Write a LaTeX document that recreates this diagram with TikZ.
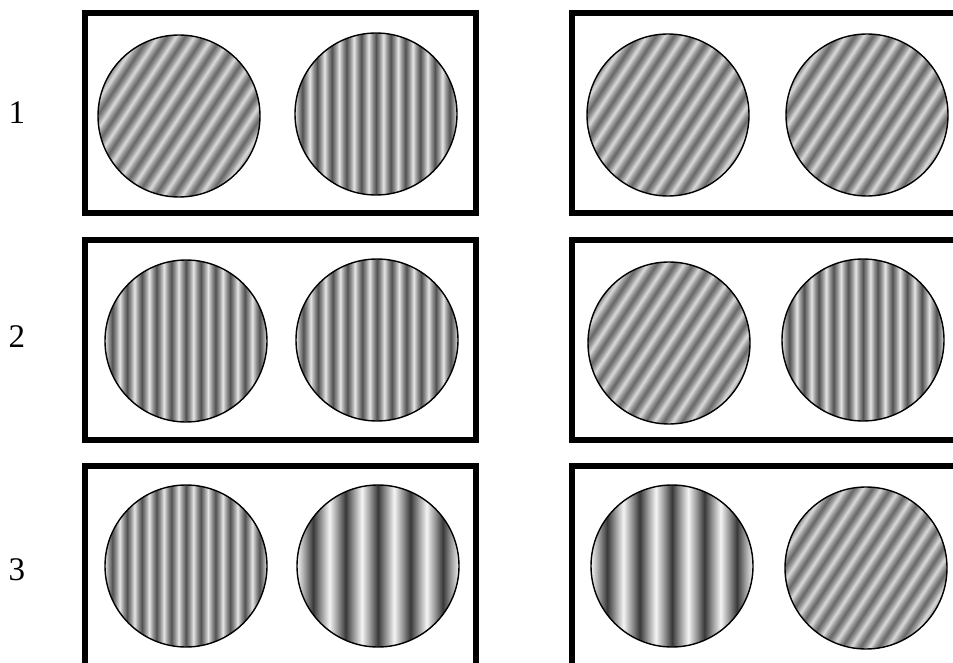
\documentclass[tikz,border=0pt]{standalone}
\usepackage{fontspec}
\setmainfont{Liberation Serif}
\usepackage{tikz}
\usetikzlibrary{shapes, positioning}

\definecolor{fdark}{gray}{0.32}
\definecolor{fmid}{gray}{0.58}
\definecolor{flight}{gray}{0.90}
\definecolor{odark}{gray}{0.40}
\definecolor{omid}{gray}{0.60}
\definecolor{olight}{gray}{0.86}
\definecolor{cdark}{gray}{0.22}
\definecolor{cmid}{gray}{0.60}
\definecolor{clight}{gray}{0.96}

% periodic grating shadings: name, periods per 100bp, dark, mid, light
\newcommand{\makegrating}[5]{%
  \gdef\gspec{}%
  \pgfmathsetmacro\gper{100/#2}%
  \foreach \k in {1,...,#2}{%
    \pgfmathsetmacro\ga{(\k-1)*\gper}%
    \pgfmathsetmacro\gb{(\k-0.75)*\gper}%
    \pgfmathsetmacro\gc{(\k-0.5)*\gper}%
    \pgfmathsetmacro\gd{(\k-0.25)*\gper}%
    \xdef\gspec{\gspec color(\ga bp)=(#3); color(\gb bp)=(#4); color(\gc bp)=(#5); color(\gd bp)=(#4);}%
  }%
  \xdef\gspec{\gspec color(100bp)=(#3)}%
  \edef\gtmp{\noexpand\pgfdeclarehorizontalshading{#1}{100bp}{\gspec}}\gtmp}
\makegrating{gratfine}{22}{fdark}{fmid}{flight}
\makegrating{gratobl}{21}{odark}{omid}{olight}
\makegrating{gratcoarse}{10}{cdark}{cmid}{clight}

\begin{document}
\begin{tikzpicture}[x=1pt, y=-1pt,
  panel/.style={draw, line width=6pt, minimum width=391pt, minimum height=200pt, inner sep=0pt},
  grating/.style={circle, draw, line width=1.4pt, minimum size=162pt, inner sep=0pt, shade},
  fine/.style={grating, shading=gratfine},
  obl/.style={grating, shading=gratobl, shading angle=-33},
  coarse/.style={grating, shading=gratcoarse},
  rowlabel/.style={font=\fontsize{33pt}{36pt}\selectfont}
]
  \path[use as bounding box, clip] (0,0) rectangle (953,663);

  % row labels
  \node[rowlabel] (lab1) at (17,113) {1};
  \node[rowlabel] (lab2) at (17,337) {2};
  \node[rowlabel] (lab3) at (17,570) {3};

  % panels
  \node[panel] (p1l) at (280.5,113) {};
  \node[panel] (p1r) at (767.5,113) {};
  \node[panel] (p2l) at (280.5,340) {};
  \node[panel] (p2r) at (767.5,340) {};
  \node[panel] (p3l) at (280.5,566) {};
  \node[panel] (p3r) at (767.5,566) {};

  % Row 1
  \node[obl] (g1a) at (179,116) {};
  \node[fine] (g1b) at (376,114) {};
  \node[obl] (g1c) at (668,115) {};
  \node[obl] (g1d) at (867,115) {};

  % Row 2
  \node[fine] (g2a) at (186,341) {};
  \node[fine] (g2b) at (377,340) {};
  \node[obl] (g2c) at (669,343) {};
  \node[fine] (g2d) at (863,340) {};

  % Row 3
  \node[fine] (g3a) at (186,566) {};
  \node[coarse] (g3b) at (378,566) {};
  \node[coarse] (g3c) at (672,566) {};
  \node[obl] (g3d) at (866,568) {};
\end{tikzpicture}
\end{document}
